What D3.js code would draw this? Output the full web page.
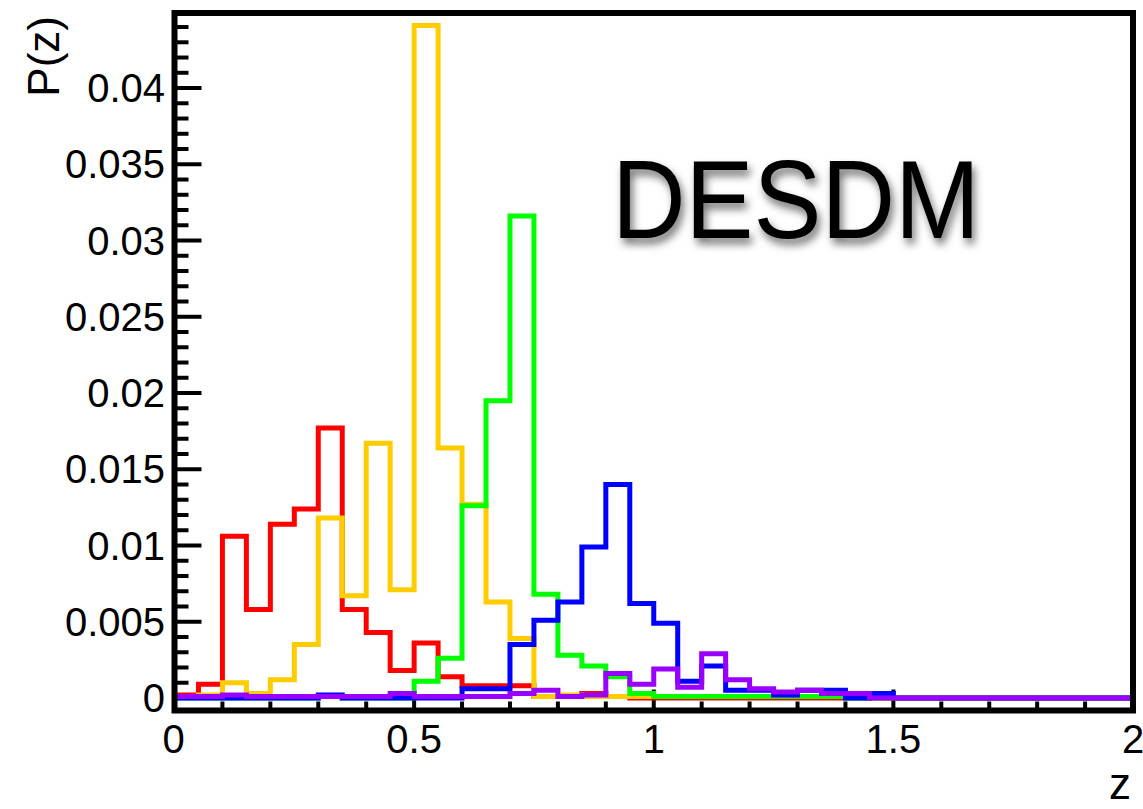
<!DOCTYPE html>
<html>
<head>
<meta charset="utf-8">
<script src="https://cdn.jsdelivr.net/npm/d3@7/dist/d3.min.js"></script>
<style>
  html, body { margin: 0; padding: 0; background: #ffffff; }
  svg { display: block; }
  text { font-family: "Liberation Sans", Arial, Helvetica, sans-serif; fill: #000; }
</style>
</head>
<body>
<svg id="chart" width="1143" height="809"></svg>
<script>
// ---- data ----
const binStart = 0;
const binWidth = 0.05;
const xTickLabels = ["0", "0.5", "1", "1.5", "2"];
const xTickValues = [0, 0.5, 1, 1.5, 2];
const yTickLabels = ["0", "0.005", "0.01", "0.015", "0.02", "0.025", "0.03", "0.035", "0.04"];
const yTickValues = [0, 0.005, 0.01, 0.015, 0.02, 0.025, 0.03, 0.035, 0.04];
const seriesNames = ["red", "orange", "green", "blue", "purple"];
const seriesColors = ["#ff0000", "#ffcc00", "#00ff00", "#0000ff", "#9900ff"];

const redValues = [0.0002, 0.0009, 0.0106, 0.0058, 0.0114, 0.0124, 0.0177, 0.0058, 0.0043, 0.0018,
  0.0036, 0.0014, 0.0008, 0.0008, 0.0008, 0.0001, 0.0001, 0.0003, 0.0001, 0,
  0, 0, 0, 0, 0, 0, 0, 0, 0, 0, 0, 0, 0, 0, 0, 0, 0, 0, 0, 0];
const orangeValues = [0.0001, 0.0002, 0.0010, 0.0003, 0.0012, 0.0035, 0.0118, 0.0067, 0.0167, 0.0071,
  0.0441, 0.0164, 0.0127, 0.0063, 0.0039, 0.0001, 0.0002, 0.0001, 0.0001, 0.0001,
  0.0001, 0.0001, 0.0001, 0.0001, 0.0001, 0.0001, 0.0001, 0.0001, 0, 0, 0, 0, 0, 0, 0, 0, 0, 0, 0, 0];
const greenValues = [0, 0, 0, 0, 0, 0, 0.0001, 0, 0, 0,
  0.0011, 0.0026, 0.0126, 0.0195, 0.0316, 0.0068, 0.0028, 0.0021, 0.0014, 0.0003,
  0.0001, 0.0001, 0.0001, 0.0001, 0.0001, 0.0001, 0.0001, 0.0001, 0, 0, 0, 0, 0, 0, 0, 0, 0, 0, 0, 0];
const blueValues = [0, 0, 0, 0, 0, 0, 0.0002, 0, 0, 0,
  0, 0, 0.0006, 0.0006, 0.0035, 0.0051, 0.0063, 0.0099, 0.0140, 0.0062,
  0.0049, 0.0011, 0.0021, 0.0005, 0.0005, 0.0002, 0.0005, 0.0005, 0, 0.0003,
  0, 0, 0, 0, 0, 0, 0, 0, 0, 0];
const purpleValues = [0.0001, 0.0001, 0.0002, 0.0001, 0.0001, 0.0001, 0.0001, 0.0001, 0.0001, 0.0003,
  0.0001, 0.0001, 0.0001, 0.0001, 0.0003, 0.0005, 0.0001, 0.0002, 0.0016, 0.0009,
  0.0019, 0.0007, 0.0029, 0.0012, 0.0006, 0.0004, 0.0005, 0.0003, 0.0003, 0,
  0, 0, 0, 0, 0, 0, 0, 0, 0, 0];
const seriesValues = [redValues, orangeValues, greenValues, blueValues, purpleValues];

const titleText = "DESDM";
const xTitle = "z";
const yTitle = "P(z)";

// ---- layout ----
const svg = d3.select("#chart");
const pLeft = 174.5, pRight = 1133, pTop = 13, pBottom = 710.5;
const yMin = -0.00082, yMax = 0.04492;

const x = d3.scaleLinear().domain([0, 2]).range([pLeft, pRight]);
const y = d3.scaleLinear().domain([yMin, yMax]).range([pBottom, pTop]);

// drop shadow filter for the big label
const defs = svg.append("defs");
const f = defs.append("filter").attr("id", "shadow")
  .attr("x", "-10%").attr("y", "-20%").attr("width", "130%").attr("height", "160%");
f.append("feDropShadow").attr("dx", 3).attr("dy", 6).attr("stdDeviation", 4)
  .attr("flood-color", "#000").attr("flood-opacity", 0.55);

// ---- ticks ----
const gTicks = svg.append("g");
const yMinor = d3.range(0, 45).map(i => i * 0.001).filter(v => v <= yMax);
gTicks.selectAll("line.ymin").data(yMinor).enter().append("line")
  .attr("x1", pLeft).attr("x2", (d, i) => (i % 5 === 0) ? pLeft + 27 : pLeft + 14)
  .attr("y1", d => y(d)).attr("y2", d => y(d))
  .attr("stroke", "#000").attr("stroke-width", 4);
const xMinor = d3.range(1, 20).map(i => i * 0.1);
gTicks.selectAll("line.xmin").data(xMinor).enter().append("line")
  .attr("x1", d => x(d)).attr("x2", d => x(d))
  .attr("y1", pBottom).attr("y2", (d, i) => ((i + 1) % 5 === 0) ? pBottom - 21 : pBottom - 9)
  .attr("stroke", "#000").attr("stroke-width", 4);

// ---- histograms ----
const line = d3.line().x(d => x(d[0])).y(d => y(d[1])).curve(d3.curveLinear);
function stepPoints(vals) {
  const pts = [[binStart, yMin]];
  vals.forEach((v, i) => {
    const x0 = binStart + i * binWidth, x1 = binStart + (i + 1) * binWidth;
    pts.push([x0, v]); pts.push([x1, v]);
  });
  pts.push([binStart + vals.length * binWidth, yMin]);
  return pts;
}
const gSeries = svg.append("g");
seriesValues.forEach((vals, k) => {
  gSeries.append("path")
    .attr("d", line(stepPoints(vals)))
    .attr("fill", "none")
    .attr("stroke", seriesColors[k])
    .attr("stroke-width", 5)
    .attr("stroke-linejoin", "miter")
    .attr("stroke-linecap", "square");
});

// ---- frame ----
svg.append("rect")
  .attr("x", pLeft).attr("y", pTop)
  .attr("width", pRight - pLeft).attr("height", pBottom - pTop)
  .attr("fill", "none").attr("stroke", "#000").attr("stroke-width", 6);

// ---- tick labels ----
svg.selectAll("text.ylab").data(yTickValues).enter().append("text")
  .attr("x", 165).attr("y", d => y(d) + 14)
  .attr("text-anchor", "end").attr("font-size", 40)
  .text((d, i) => yTickLabels[i]);
svg.selectAll("text.xlab").data(xTickValues).enter().append("text")
  .attr("x", d => x(d) - (d === 0 ? 1 : 0)).attr("y", 753)
  .attr("text-anchor", "middle").attr("font-size", 40)
  .text((d, i) => xTickLabels[i]);

// axis titles
svg.append("text").attr("x", 1131).attr("y", 799)
  .attr("text-anchor", "end").attr("font-size", 44).text(xTitle);
svg.append("text")
  .attr("transform", "translate(59,16) rotate(-90)")
  .attr("text-anchor", "end").attr("font-size", 44).text(yTitle);

// big label with shadow
svg.append("text")
  .attr("x", 612).attr("y", 238)
  .attr("font-size", 111)
  .attr("textLength", 368).attr("lengthAdjust", "spacingAndGlyphs")
  .attr("filter", "url(#shadow)")
  .text(titleText);
</script>
</body>
</html>
